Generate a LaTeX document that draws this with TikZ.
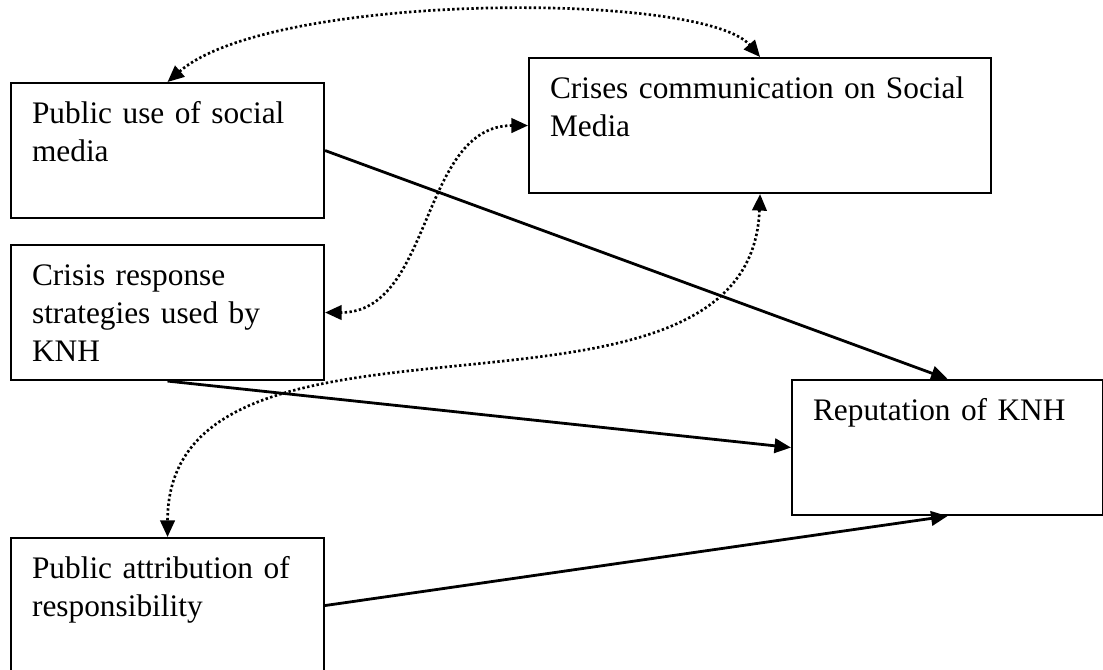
\documentclass[tikz,border=0pt]{standalone}
\usepackage{fontspec}
\setmainfont{Liberation Serif}
\usetikzlibrary{arrows.meta}
\tikzset{
        % Boxes for the variables
        var_box/.style={draw=black, line width=0.8pt, rectangle, anchor=north west, align=left,
            inner xsep=7.875pt, inner ysep=0pt, text width=101.6pt,
            text height=15pt, text depth=35.6pt, font=\fontsize{11.75}{14.25}\selectfont},
        % Wider box
        var_box_wide/.style={var_box, text width=157.5pt},
        % Direct effects
        link_direct/.style={-{Triangle[length=6.2pt,width=5.4pt]}, line width=1.05pt},
        % Two-way relations
        link_corr/.style={{Triangle[length=6.2pt,width=5.4pt]}-{Triangle[length=6.2pt,width=5.4pt]},
            line width=1pt, dash pattern=on 0.9pt off 0.9pt}
}
\begin{document}
\begin{tikzpicture}[x=0.375pt, y=-0.375pt]
    \useasboundingbox (0,0) rectangle (1103,670);
    \clip (0,0) rectangle (1103,670);

    \node[var_box] (use) at (10,82) {Public use of social\\media};
    \node[var_box_wide] (comm) at (528,57) {Crises communication on Social\\Media};
    \node[var_box] (strat) at (10,244) {Crisis response\\strategies used by\\KNH};
    \node[var_box, text width=100.9pt] (rep) at (791,379) {Reputation of KNH};
    \node[var_box] (attr) at (10,537) {Public attribution of\\responsibility};

    % direct effects on reputation
    \draw[link_direct] (use.east) -- (rep.north);
    \draw[link_direct] (strat.south) -- (rep.west);
    \draw[link_direct] (attr.east) -- (rep.south);

    % links with crises communication
    \draw[link_corr] (use.north) .. controls +(103,-90) and +(-57,-66) .. (comm.north);
    \draw[link_corr] (comm.west) .. controls +(-108,0) and +(108,0) .. (strat.east);
    \draw[link_corr] (comm.south) .. controls +(-10,268) and +(0,-268) .. (attr.north);
\end{tikzpicture}
\end{document}
